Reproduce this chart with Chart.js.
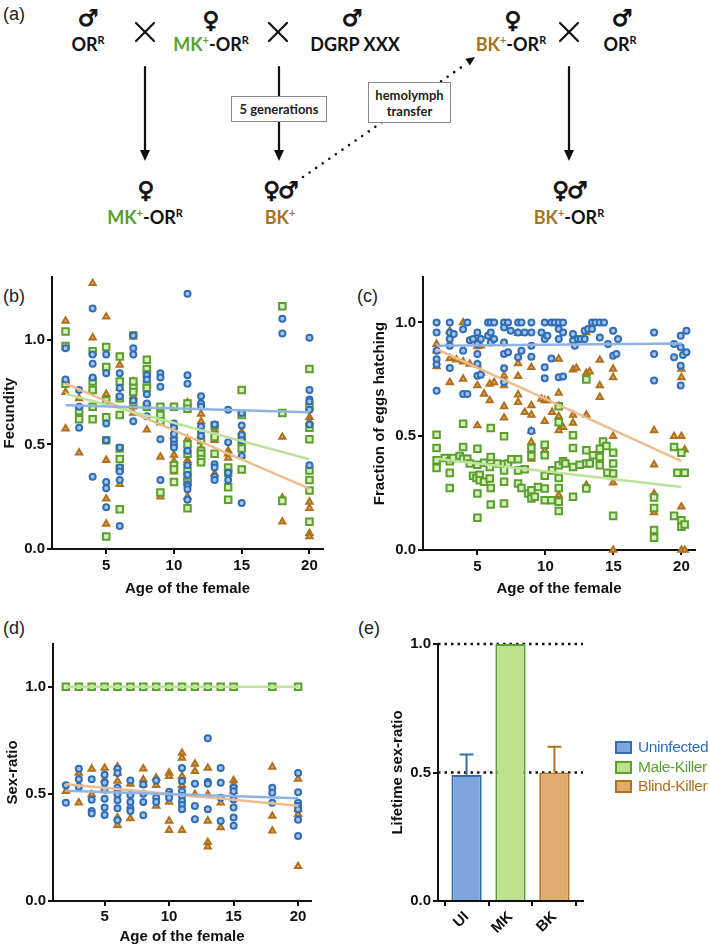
<!DOCTYPE html>
<html>
<head>
<meta charset="utf-8">
<script src="https://cdn.jsdelivr.net/npm/chart.js@4.4.1/dist/chart.umd.min.js"></script>
<style>
  body { margin: 0; background: #fff; }
  #page { position: relative; width: 709px; height: 946px; overflow: hidden; font-family: "Liberation Sans", Arial, sans-serif; }
  .c { position: absolute; transform: translateX(-50%); white-space: nowrap; text-align: center; }
  .sym { font-family: "DejaVu Sans"; font-weight: bold; font-size: 23px; line-height: 24px; color: #111; -webkit-text-stroke: 0.9px #111; letter-spacing: -2px; }
  .gen { font-family: Lato, "Open Sans", sans-serif; font-weight: 700; font-size: 18px; line-height: 20px; color: #111; }
  .gen sup { font-size: 11px; vertical-align: top; position: relative; top: -4px; }
  .mk { color: #5c9e2e; }
  .bk { color: #a6741f; }
  .box { position: absolute; border: 1px solid #8a8a8a; background: #fff; font-family: Lato, "Open Sans", sans-serif; font-size: 13px; font-weight: 700; text-align: center; color: #222; box-sizing: border-box; }
  .plab { position: absolute; font-size: 18px; line-height: 20px; color: #222; }
  canvas { position: absolute; }
  .leg { position: absolute; left: 615px; width: 13px; height: 9px; border: 2px solid; }
  .legt { position: absolute; left: 638px; font-size: 15.5px; letter-spacing: -0.4px; line-height: 20px; white-space: nowrap; }
</style>
</head>
<body>
<div id="page">
  <!-- panel (a): crossing scheme -->
  <svg style="position:absolute;left:0;top:0" width="709" height="250">
    <g stroke="#111" stroke-width="2.2" stroke-linecap="round">
      <line x1="136" y1="23" x2="154" y2="41"/><line x1="154" y1="23" x2="136" y2="41"/>
      <line x1="269" y1="23" x2="287" y2="41"/><line x1="287" y1="23" x2="269" y2="41"/>
      <line x1="560" y1="23" x2="578" y2="41"/><line x1="578" y1="23" x2="560" y2="41"/>
      <line x1="145" y1="67" x2="145" y2="152"/>
      <line x1="279" y1="67" x2="279" y2="152"/>
      <line x1="569" y1="67" x2="569" y2="152"/>
    </g>
    <g fill="#111">
      <polygon points="140,150 150,150 145,161"/>
      <polygon points="274,150 284,150 279,161"/>
      <polygon points="564,150 574,150 569,161"/>
      <polygon points="475,57 469.9,65.4 465.3,58.8"/>
    </g>
    <line x1="303" y1="177" x2="466" y2="64" stroke="#111" stroke-width="2.6" stroke-linecap="round" stroke-dasharray="0 8"/>
  </svg>

  <div class="plab" style="left:3px;top:4px">(a)</div>

  <div class="c sym" style="left:87px;top:6px">♂</div>
  <div class="c gen" style="left:88px;top:34px">OR<sup>R</sup></div>
  <div class="c sym" style="left:210px;top:8px">♀</div>
  <div class="c gen" style="left:211px;top:34px"><span class="mk">MK<sup>+</sup></span>-OR<sup>R</sup></div>
  <div class="c sym" style="left:351px;top:6px">♂</div>
  <div class="c gen" style="left:355px;top:34px">DGRP XXX</div>
  <div class="c sym" style="left:512px;top:8px">♀</div>
  <div class="c gen" style="left:511px;top:34px"><span class="bk">BK<sup>+</sup></span>-OR<sup>R</sup></div>
  <div class="c sym" style="left:621px;top:6px">♂</div>
  <div class="c gen" style="left:620px;top:34px">OR<sup>R</sup></div>

  <div class="box" style="left:231px;top:96px;width:96px;height:26px;line-height:24px">5 generations</div>
  <div class="box" style="left:368px;top:82px;width:83px;height:41px;line-height:16px;padding-top:4px">hemolymph<br>transfer</div>

  <div class="c sym" style="left:145px;top:178px">♀</div>
  <div class="c gen" style="left:145px;top:207px"><span class="mk">MK<sup>+</sup></span>-OR<sup>R</sup></div>
  <div class="c sym" style="left:280px;top:178px">♀♂</div>
  <div class="c gen" style="left:280px;top:207px"><span class="bk">BK<sup>+</sup></span></div>
  <div class="c sym" style="left:569px;top:178px">♀♂</div>
  <div class="c gen" style="left:569px;top:207px"><span class="bk">BK<sup>+</sup></span>-OR<sup>R</sup></div>

  <div class="plab" style="left:3px;top:286px">(b)</div>
  <div class="plab" style="left:357px;top:286px">(c)</div>
  <div class="plab" style="left:3px;top:618px">(d)</div>
  <div class="plab" style="left:358px;top:618px">(e)</div>

  <canvas id="fec" width="345" height="340" style="left:0;top:266px"></canvas>
  <canvas id="hatch" width="354" height="340" style="left:355px;top:266px"></canvas>
  <canvas id="sex" width="345" height="313" style="left:0;top:633px"></canvas>
  <canvas id="life" width="354" height="313" style="left:355px;top:633px"></canvas>

  <div class="leg" style="top:741px;background:#7ea6dc;border-color:#2f6db5"></div>
  <div class="legt" style="top:737px;color:#2f6db5">Uninfected</div>
  <div class="leg" style="top:761px;background:#bde18f;border-color:#5b9f2d"></div>
  <div class="legt" style="top:757px;color:#5b9f2d">Male-Killer</div>
  <div class="leg" style="top:780px;background:#dfac6e;border-color:#b0701c"></div>
  <div class="legt" style="top:776px;color:#b0701c">Blind-Killer</div>
</div>

<script>
// ---- data ----
const days = [2, 3, 4, 5, 6, 7, 8, 9, 10, 11, 12, 13, 14, 15, 18, 20];
const fitX = [2, 20];
const xTicks = [5, 10, 15, 20];
const yTicks = [0, 0.5, 1.0];

// (b) fecundity, one list per day
const fecUI = [
  [0.96, 0.81], [0.76, 0.68, 0.58], [1.15, 0.93, 0.885, 0.82, 0.345],
  [0.93, 0.84, 0.60, 0.52, 0.32, 0.29, 0.20], [0.84, 0.77, 0.73, 0.485, 0.39, 0.37, 0.33, 0.11],
  [1.02, 0.96, 0.93, 0.71, 0.61], [0.83, 0.81, 0.74, 0.695, 0.635], [0.84, 0.82, 0.775, 0.525, 0.33],
  [0.60, 0.58, 0.55, 0.52, 0.50, 0.485], [1.22, 0.83, 0.79, 0.47, 0.40, 0.355, 0.31, 0.30, 0.285, 0.235],
  [0.73, 0.695, 0.68, 0.585, 0.56, 0.54], [0.595, 0.405, 0.39, 0.345, 0.33], [0.665, 0.51, 0.365, 0.33],
  [0.65, 0.59, 0.545, 0.52, 0.445, 0.22], [1.10, 1.03], [1.01, 0.76, 0.715, 0.705, 0.665, 0.595, 0.40]
];
const fecMK = [
  [1.04, 0.97, 0.79], [0.66, 0.62], [0.945, 0.80, 0.76, 0.68, 0.62],
  [0.965, 0.87, 0.71, 0.63, 0.52, 0.06], [0.92, 0.80, 0.72, 0.64, 0.48, 0.43, 0.385, 0.19],
  [1.02, 0.80, 0.77, 0.75, 0.70], [0.905, 0.86, 0.835, 0.785, 0.77, 0.68], [0.68, 0.64, 0.61, 0.27],
  [0.68, 0.40, 0.38, 0.32], [0.695, 0.67, 0.50, 0.455, 0.375, 0.34, 0.32, 0.195],
  [0.52, 0.47, 0.455, 0.43, 0.415], [0.59, 0.535, 0.455], [0.39, 0.365, 0.295, 0.235],
  [0.76, 0.64, 0.52, 0.48, 0.38], [1.16, 0.65, 0.23], [0.86, 0.68, 0.58, 0.525, 0.375, 0.33, 0.28, 0.13]
];
const fecBK = [
  [1.09, 0.75, 0.575], [0.72, 0.46], [1.27, 1.01, 0.76], [1.11, 0.74, 0.425, 0.24, 0.12],
  [0.88, 0.77, 0.31], [0.80, 0.73, 0.68, 0.65], [0.57], [0.44, 0.25], [0.54, 0.45, 0.42, 0.37],
  [0.70, 0.525, 0.50, 0.425, 0.415, 0.25], [0.645, 0.61, 0.48], [0.57, 0.52, 0.36],
  [0.47, 0.455, 0.435], [0.56, 0.535], [0.535, 0.245, 0.13], [0.63, 0.61, 0.225, 0.195, 0.075, 0.06]
];
const fecFitUI = [0.687, 0.653];
const fecFitMK = [0.742, 0.429];
const fecFitBK = [0.79, 0.289];

// (c) fraction of eggs hatching, [age (jittered), value]
const hatchUI = [
  [2.0, 1.0], [2.0, 0.956], [2.0, 0.876], [2.0, 0.839], [2.0, 0.815], [2.0, 0.70],
  [2.97, 1.0], [2.97, 0.956], [2.97, 0.927], [2.97, 0.898], [2.97, 0.80], [3.26, 0.95],
  [3.95, 0.97], [3.95, 0.876], [3.95, 0.686], [4.26, 1.0], [4.26, 0.686], [4.44, 0.922], [4.68, 0.927],
  [5.0, 0.956], [5.0, 0.905], [5.0, 0.861], [5.0, 0.818], [5.0, 0.766], [5.25, 0.927], [5.25, 0.77],
  [5.78, 1.0], [5.78, 0.942], [5.98, 1.0], [5.98, 0.956], [5.98, 0.912], [6.23, 1.0], [6.23, 0.927],
  [6.96, 1.0], [6.96, 0.978], [6.96, 0.912], [6.96, 0.861], [6.96, 0.799], [6.96, 0.737],
  [7.25, 1.0], [7.25, 0.869], [7.45, 0.964], [7.99, 1.0], [7.99, 0.956], [7.99, 0.847],
  [8.24, 1.0], [8.24, 0.876], [8.48, 0.956], [8.97, 1.0], [8.97, 0.956], [8.97, 0.898], [8.97, 0.85], [8.97, 0.523],
  [9.71, 0.956], [9.95, 1.0], [9.95, 0.927], [9.95, 0.803], [9.95, 0.755], [10.15, 0.942],
  [10.44, 1.0], [10.44, 0.842], [10.69, 1.0], [10.98, 1.0], [10.98, 0.971], [10.98, 0.927], [10.98, 0.759],
  [11.3, 1.0], [11.3, 0.956], [11.3, 0.763], [12.03, 0.949], [12.03, 0.92], [12.16, 0.898],
  [12.4, 0.927], [12.6, 0.927], [12.89, 0.927], [12.89, 0.964], [13.14, 0.971], [13.43, 1.0], [13.43, 0.971],
  [13.68, 1.0], [14.0, 1.0], [14.0, 0.934], [14.31, 1.0], [14.6, 0.905], [14.98, 0.964], [14.98, 0.854],
  [15.22, 0.861], [15.34, 0.927], [17.99, 0.956], [17.99, 0.861], [17.99, 0.745],
  [19.46, 0.905], [19.46, 0.847], [19.95, 0.942], [19.95, 0.891], [19.95, 0.81], [19.95, 0.723],
  [20.12, 0.857], [20.37, 0.964], [20.37, 0.869]
];
const hatchMK = [
  [2.0, 0.507], [2.0, 0.448], [2.0, 0.394], [2.0, 0.361], [2.6, 0.404], [2.97, 0.39], [2.97, 0.339], [2.97, 0.273],
  [3.21, 0.404], [3.7, 0.413], [3.95, 0.555], [3.95, 0.453], [3.95, 0.401], [4.26, 0.401], [4.44, 0.38],
  [4.68, 0.326], [4.93, 0.317], [5.0, 0.445], [5.0, 0.375], [5.0, 0.248], [5.0, 0.142], [5.17, 0.331], [5.17, 0.307],
  [5.49, 0.30], [5.49, 0.384], [5.91, 0.365], [5.91, 0.314], [5.98, 0.536], [5.98, 0.409], [5.98, 0.273], [5.98, 0.20],
  [6.47, 0.38], [6.96, 0.50], [6.96, 0.377], [6.96, 0.35], [6.96, 0.30], [6.96, 0.204], [7.25, 0.38], [7.5, 0.399],
  [7.99, 0.399], [7.99, 0.35], [7.99, 0.292], [8.24, 0.273], [8.48, 0.355], [8.73, 0.248],
  [8.97, 0.448], [8.97, 0.413], [8.97, 0.263], [8.97, 0.226], [9.22, 0.234], [9.46, 0.277],
  [9.95, 0.463], [9.95, 0.416], [9.95, 0.326], [9.95, 0.27], [9.95, 0.219], [10.44, 0.219], [10.49, 0.35],
  [10.98, 0.632], [10.98, 0.562], [10.98, 0.372], [10.98, 0.317], [10.98, 0.273], [10.98, 0.212], [10.98, 0.171],
  [11.3, 0.39], [11.47, 0.38], [12.03, 0.504], [12.03, 0.448], [12.03, 0.365], [12.03, 0.234], [12.52, 0.375],
  [13.01, 0.749], [13.01, 0.438], [13.01, 0.38], [13.01, 0.27], [13.26, 0.38], [13.5, 0.416],
  [14.0, 0.445], [14.0, 0.409], [14.0, 0.372], [14.24, 0.477], [14.49, 0.457], [14.56, 0.34],
  [14.98, 0.428], [14.98, 0.38], [14.98, 0.336], [14.98, 0.15],
  [17.99, 0.231], [17.99, 0.185], [17.99, 0.088], [17.99, 0.054], [19.46, 0.453], [19.46, 0.15], [19.7, 0.34],
  [20.0, 0.428], [20.0, 0.131], [20.0, 0.102], [20.24, 0.34], [20.24, 0.112]
];
const hatchBK = [
  [2.0, 0.905], [2.0, 0.876], [2.0, 0.807], [2.97, 0.963], [2.97, 0.842], [2.97, 0.737], [3.46, 0.837],
  [3.95, 1.0], [3.95, 0.828], [3.95, 0.752], [4.44, 0.818], [5.0, 0.895], [5.0, 0.815], [5.0, 0.723], [5.0, 0.547],
  [5.25, 0.898], [5.25, 0.778], [5.49, 0.686], [5.91, 0.73], [5.91, 0.657], [6.23, 0.737],
  [6.96, 0.766], [6.96, 0.723], [6.96, 0.631], [6.96, 0.581], [7.99, 0.953], [7.99, 0.82], [7.99, 0.764],
  [7.99, 0.683], [7.99, 0.65], [8.48, 0.606], [8.97, 0.803], [8.97, 0.635], [8.97, 0.594], [8.97, 0.523],
  [8.97, 0.474], [8.97, 0.40], [9.71, 0.664], [9.95, 0.657], [9.95, 0.566], [9.95, 0.438], [10.2, 0.657],
  [10.49, 0.606], [10.98, 0.84], [10.98, 0.69], [10.98, 0.632], [10.98, 0.588], [10.98, 0.559], [10.98, 0.526],
  [10.98, 0.241], [11.3, 0.54], [12.03, 0.793], [12.03, 0.594], [12.03, 0.559], [12.28, 0.80],
  [13.01, 0.956], [13.01, 0.778], [13.01, 0.594], [13.01, 0.285], [13.26, 0.784], [14.0, 0.835], [14.0, 0.723],
  [14.0, 0.672], [14.98, 0.796], [14.98, 0.759], [14.98, 0.50], [14.98, 0.296], [14.98, 0.0],
  [17.99, 0.526], [17.99, 0.375], [17.99, 0.248], [17.99, 0.165], [19.46, 0.50],
  [20.0, 0.796], [20.0, 0.759], [20.0, 0.50], [20.0, 0.19], [20.0, 0.0], [20.24, 0.441], [20.24, 0.0]
];
const hatchFitUI = [0.898, 0.908];
const hatchFitMK = [0.401, 0.277];
const hatchFitBK = [0.883, 0.391];

// (d) sex-ratio, one list per day
const sexUI = [
  [0.541, 0.459], [0.618, 0.569, 0.533], [0.569, 0.473, 0.42, 0.408], [0.59, 0.552, 0.521, 0.478, 0.436, 0.402],
  [0.617, 0.598, 0.529, 0.513, 0.498, 0.471, 0.433, 0.377], [0.563, 0.495, 0.462, 0.433, 0.42],
  [0.544, 0.501, 0.462, 0.40], [0.563, 0.482, 0.462], [0.51, 0.495, 0.482],
  [0.621, 0.56, 0.513, 0.49, 0.467, 0.448, 0.428], [0.547, 0.444, 0.382], [0.76, 0.556, 0.547, 0.428],
  [0.621, 0.552, 0.482, 0.374], [0.529, 0.513, 0.474, 0.436, 0.39, 0.351], [0.529, 0.505, 0.459],
  [0.598, 0.508, 0.459, 0.444, 0.428, 0.379, 0.304]
];
const sexMK = [[1], [1], [1], [1], [1], [1], [1], [1], [1], [1], [1], [1], [1], [1], [1], [1]];
const sexBK = [
  [0.513], [0.598, 0.459], [0.617, 0.498], [0.621, 0.567, 0.516], [0.626, 0.598, 0.56, 0.39, 0.354],
  [0.547, 0.386], [0.618, 0.567, 0.544], [0.575, 0.541, 0.444], [0.598, 0.583, 0.462, 0.374, 0.331],
  [0.691, 0.668, 0.583, 0.541, 0.331], [0.64, 0.606, 0.498], [0.621, 0.498, 0.374, 0.274, 0.253],
  [0.459, 0.343], [0.563, 0.544, 0.513], [0.626, 0.397, 0.328], [0.57, 0.428, 0.405, 0.162]
];
const sexFitUI = [0.515, 0.48];
const sexFitMK = [1.0, 1.0];
const sexFitBK = [0.545, 0.445];

// (e) lifetime sex-ratio
const groups = ['UI', 'MK', 'BK'];
const lifetimeRatio = [0.49, 1.0, 0.50];
const lifetimeUpper = [0.57, null, 0.60];
const refLines = [0.5, 1.0];

// ---- drawing ----
const FONT = '"Liberation Sans", Arial, sans-serif';
const INK = '#111';
const COL = {
  UI: { line: '#2f6db5', fill: '#a8c4ea', trend: '#8fb3e2', bar: '#7ea6dc' },
  MK: { line: '#5b9f2d', fill: '#d8efbf', trend: '#bde39a', bar: '#bde18f' },
  BK: { line: '#b0701c', fill: '#e9ae67', trend: '#ebbd8f', bar: '#dfac6e' }
};

function byDay(lists) {
  const out = [];
  lists.forEach((vals, i) => vals.forEach(v => out.push({ x: days[i], y: v })));
  return out;
}
function pairs(list) { return list.map(p => ({ x: p[0], y: p[1] })); }
function fitLine(v) { return fitX.map((x, i) => ({ x: x, y: v[i] })); }

function pointSet(data, key, style, r, order) {
  return { type: 'scatter', data: data, pointStyle: style, pointRadius: r, pointBorderWidth: 2,
    borderColor: COL[key].line, backgroundColor: COL[key].fill, clip: false, order: order };
}
function trendSet(data, key) {
  return { type: 'line', data: data, borderColor: COL[key].trend, borderWidth: 2.5, pointRadius: 0,
    fill: false, clip: false, order: 0 };
}

function axisBase() {
  return {
    border: { color: INK, width: 2 },
    grid: { drawOnChartArea: false, color: INK, lineWidth: 2, tickLength: 5 }
  };
}
const tickFont = { family: FONT, size: 15, weight: 'bold' };

function scatterChart(id, o) {
  new Chart(document.getElementById(id), {
    type: 'scatter',
    data: { datasets: o.sets },
    options: {
      responsive: false, animation: false, devicePixelRatio: 1,
      layout: { padding: { top: o.padTop, right: o.padRight, left: 0, bottom: 0 } },
      plugins: { legend: { display: false }, tooltip: { enabled: false } },
      scales: {
        x: Object.assign(axisBase(), {
          type: 'linear', min: 1, max: 21,
          afterBuildTicks: s => { s.ticks = xTicks.map(v => ({ value: v })); },
          afterFit: s => { s.height = o.xh; },
          ticks: { font: tickFont, color: INK, padding: o.xpad, maxRotation: 0 },
          title: { display: true, text: 'Age of the female', color: INK,
            font: { family: FONT, size: 15, weight: 'bold' }, padding: { top: 0, bottom: o.xtp } }
        }),
        y: Object.assign(axisBase(), {
          type: 'linear', min: 0, max: o.ymax,
          afterBuildTicks: s => { s.ticks = yTicks.map(v => ({ value: v })); },
          afterFit: s => { s.width = o.yw; },
          ticks: { font: tickFont, color: INK, padding: 2, callback: v => v.toFixed(1) },
          title: { display: true, text: o.ytitle, color: INK,
            font: { family: FONT, size: 15, weight: 'bold' }, padding: { top: o.ytp, bottom: 0 } }
        })
      }
    }
  });
}

scatterChart('fec', {
  ytitle: 'Fecundity', ymax: 1.3, padTop: 10, padRight: 22, yw: 52, ytp: 1, xh: 57, xpad: 3, xtp: 8,
  sets: [
    trendSet(fitLine(fecFitUI), 'UI'), trendSet(fitLine(fecFitMK), 'MK'), trendSet(fitLine(fecFitBK), 'BK'),
    pointSet(byDay(fecUI), 'UI', 'circle', 3, 1),
    pointSet(byDay(fecMK), 'MK', 'rect', 4.6, 2),
    pointSet(byDay(fecBK), 'BK', 'triangle', 3.6, 3)
  ]
});

scatterChart('hatch', {
  ytitle: 'Fraction of eggs hatching', ymax: 1.2, padTop: 10, padRight: 14, yw: 68, ytp: 16, xh: 56, xpad: 3, xtp: 8,
  sets: [
    trendSet(fitLine(hatchFitUI), 'UI'), trendSet(fitLine(hatchFitMK), 'MK'), trendSet(fitLine(hatchFitBK), 'BK'),
    pointSet(pairs(hatchUI), 'UI', 'circle', 3, 1),
    pointSet(pairs(hatchMK), 'MK', 'rect', 4.6, 2),
    pointSet(pairs(hatchBK), 'BK', 'triangle', 3.6, 3)
  ]
});

scatterChart('sex', {
  ytitle: 'Sex-ratio', ymax: 1.2, padTop: 10, padRight: 34, yw: 53, ytp: 4, xh: 45, xpad: 2, xtp: 0,
  sets: [
    trendSet(fitLine(sexFitUI), 'UI'), trendSet(fitLine(sexFitMK), 'MK'), trendSet(fitLine(sexFitBK), 'BK'),
    pointSet(byDay(sexUI), 'UI', 'circle', 3, 1),
    pointSet(byDay(sexMK), 'MK', 'rect', 4.6, 2),
    pointSet(byDay(sexBK), 'BK', 'triangle', 3.6, 3)
  ]
});

// dotted reference lines behind the bars, error bars on top
const barExtras = {
  id: 'barExtras',
  beforeDatasetsDraw(chart) {
    const { ctx, chartArea: a, scales: { y } } = chart;
    ctx.save();
    ctx.setLineDash([2.5, 4]);
    ctx.lineWidth = 2.5;
    ctx.strokeStyle = INK;
    refLines.forEach(v => {
      const py = y.getPixelForValue(v);
      ctx.beginPath(); ctx.moveTo(a.left, py); ctx.lineTo(a.right, py); ctx.stroke();
    });
    ctx.restore();
  },
  afterDatasetsDraw(chart) {
    const { ctx, scales: { x, y } } = chart;
    const keys = ['UI', 'MK', 'BK'];
    ctx.save();
    ctx.lineWidth = 2;
    lifetimeUpper.forEach((u, i) => {
      if (u == null) return;
      const px = x.getPixelForValue(i + 1);
      const y0 = y.getPixelForValue(lifetimeRatio[i]);
      const y1 = y.getPixelForValue(u);
      ctx.strokeStyle = COL[keys[i]].line;
      ctx.beginPath();
      ctx.moveTo(px, y0); ctx.lineTo(px, y1);
      ctx.moveTo(px - 7, y1); ctx.lineTo(px + 7, y1);
      ctx.stroke();
    });
    ctx.restore();
  }
};

new Chart(document.getElementById('life'), {
  type: 'bar',
  data: {
    datasets: [{
      data: lifetimeRatio.map((v, i) => ({ x: i + 1, y: v })),
      backgroundColor: [COL.UI.bar, COL.MK.bar, COL.BK.bar],
      borderColor: [COL.UI.line, COL.MK.line, COL.BK.line],
      borderWidth: 2, borderSkipped: 'start', barPercentage: 0.69, categoryPercentage: 1
    }]
  },
  options: {
    responsive: false, animation: false, devicePixelRatio: 1,
    layout: { padding: { top: 10, right: 126, left: 0, bottom: 0 } },
    plugins: { legend: { display: false }, tooltip: { enabled: false } },
    scales: {
      x: Object.assign(axisBase(), {
        type: 'linear', min: 0.35, max: 3.65, offset: false,
        afterBuildTicks: s => { s.ticks = groups.map((g, i) => ({ value: i + 1 })); },
        afterFit: s => { s.height = 45; },
        ticks: { font: tickFont, color: INK, padding: 2, minRotation: 45, maxRotation: 45,
          callback: v => groups[v - 1] }
      }),
      y: Object.assign(axisBase(), {
        type: 'linear', min: 0, max: 1.0,
        afterBuildTicks: s => { s.ticks = yTicks.map(v => ({ value: v })); },
        afterFit: s => { s.width = 83; },
        ticks: { font: tickFont, color: INK, padding: 2, callback: v => v.toFixed(1) },
        title: { display: true, text: 'Lifetime sex-ratio', color: INK,
          font: { family: FONT, size: 15, weight: 'bold' }, padding: { top: 34, bottom: 0 } }
      })
    }
  },
  plugins: [barExtras]
});
</script>
</body>
</html>
